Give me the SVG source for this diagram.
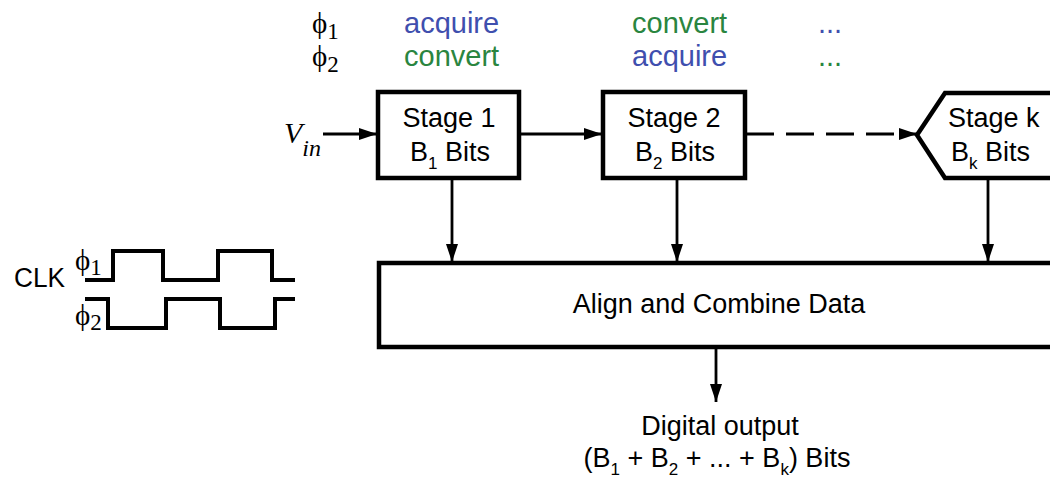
<svg xmlns="http://www.w3.org/2000/svg" width="1050" height="480" viewBox="0 0 1050 480">
  <style>
    .box { fill: #fff; stroke: #000; stroke-width: 4.5; }
    .wire { fill: none; stroke: #000; stroke-width: 2.8; }
    .clk { fill: none; stroke: #000; stroke-width: 4; stroke-linejoin: miter; }
    .lbl { font-family: "Liberation Sans", Arial, sans-serif; font-size: 27px; fill: #000; }
    .top { font-size: 29px; }
    .phi { font-family: "Liberation Serif", "Times New Roman", serif; font-size: 29px; fill: #000; }
    .acq { fill: #3f4fae; }
    .cnv { fill: #2a8540; }
  </style>
  <defs>
    <marker id="arrow" viewBox="0 0 18 12" refX="18" refY="6" markerWidth="18" markerHeight="12" markerUnits="userSpaceOnUse" orient="auto">
      <path d="M0,0 L18,6 L0,12 Z" fill="#000"/>
    </marker>
  </defs>

  <!-- phase schedule -->
  <g id="schedule">
    <text class="phi" x="312" y="33">ϕ<tspan font-size="23" dy="6">1</tspan></text>
    <text class="phi" x="312" y="66">ϕ<tspan font-size="23" dy="6">2</tspan></text>
    <text class="lbl top acq" x="404" y="33">acquire</text>
    <text class="lbl top cnv" x="404" y="66">convert</text>
    <text class="lbl top cnv" x="632" y="33">convert</text>
    <text class="lbl top acq" x="632" y="66">acquire</text>
    <text class="lbl top acq" x="818" y="33">...</text>
    <text class="lbl top cnv" x="818" y="66">...</text>
  </g>

  <!-- clock waveforms -->
  <g id="clock">
    <text class="lbl" x="14" y="287" font-size="24" textLength="51" lengthAdjust="spacingAndGlyphs">CLK</text>
    <text class="phi" x="75" y="270">ϕ<tspan font-size="23" dy="5">1</tspan></text>
    <text class="phi" x="75" y="325">ϕ<tspan font-size="23" dy="5">2</tspan></text>
    <path class="clk" d="M85,280 H113 V251 H163 V280 H218 V251 H272 V280 H295"/>
    <path class="clk" d="M85,299 H108 V328 H166 V299 H220 V328 H275 V299 H295"/>
  </g>

  <!-- connectors -->
  <g id="connectors">
    <path class="wire" d="M323,134 H377" marker-end="url(#arrow)"/>
    <path class="wire" d="M520,134 H602" marker-end="url(#arrow)"/>
    <path class="wire" d="M746,134 H917" stroke-dasharray="28,12" marker-end="url(#arrow)"/>
    <path class="wire" d="M452,180 V262" marker-end="url(#arrow)"/>
    <path class="wire" d="M677,180 V262" marker-end="url(#arrow)"/>
    <path class="wire" d="M988,180 V262" marker-end="url(#arrow)"/>
    <path class="wire" d="M716,349 V402" marker-end="url(#arrow)"/>
  </g>

  <!-- input label -->
  <g id="vin">
    <text x="284" y="143" font-family="Liberation Serif, Times New Roman, serif" font-style="italic" font-size="30">V<tspan font-size="24" dy="13">in</tspan></text>
  </g>

  <g id="stage1">
    <rect class="box" x="378" y="92" width="141" height="86"/>
    <text class="lbl" x="449" y="127" text-anchor="middle">Stage 1</text>
    <text class="lbl" x="450" y="161" text-anchor="middle">B<tspan font-size="17" dy="8">1</tspan><tspan dy="-8"> Bits</tspan></text>
  </g>

  <g id="stage2">
    <rect class="box" x="603" y="92" width="142" height="86"/>
    <text class="lbl" x="674" y="127" text-anchor="middle">Stage 2</text>
    <text class="lbl" x="675" y="161" text-anchor="middle">B<tspan font-size="17" dy="8">2</tspan><tspan dy="-8"> Bits</tspan></text>
  </g>

  <g id="stagek">
    <path class="box" d="M1056,93 H945 L917,135 L945,178 H1056"/>
    <text class="lbl" x="948" y="127">Stage k</text>
    <text class="lbl" x="951" y="161">B<tspan font-size="17" dy="8">k</tspan><tspan dy="-8"> Bits</tspan></text>
  </g>

  <g id="combine">
    <rect class="box" x="379" y="263" width="680" height="84"/>
    <text class="lbl" x="719" y="313" font-size="28" text-anchor="middle">Align and Combine Data</text>
  </g>

  <g id="output">
    <text class="lbl" x="720" y="435" text-anchor="middle">Digital output</text>
    <text class="lbl" x="717" y="467" text-anchor="middle">(B<tspan font-size="17" dy="8">1</tspan><tspan dy="-8"> + B</tspan><tspan font-size="17" dy="8">2</tspan><tspan dy="-8"> + ... + B</tspan><tspan font-size="17" dy="8">k</tspan><tspan dy="-8">) Bits</tspan></text>
  </g>
</svg>
